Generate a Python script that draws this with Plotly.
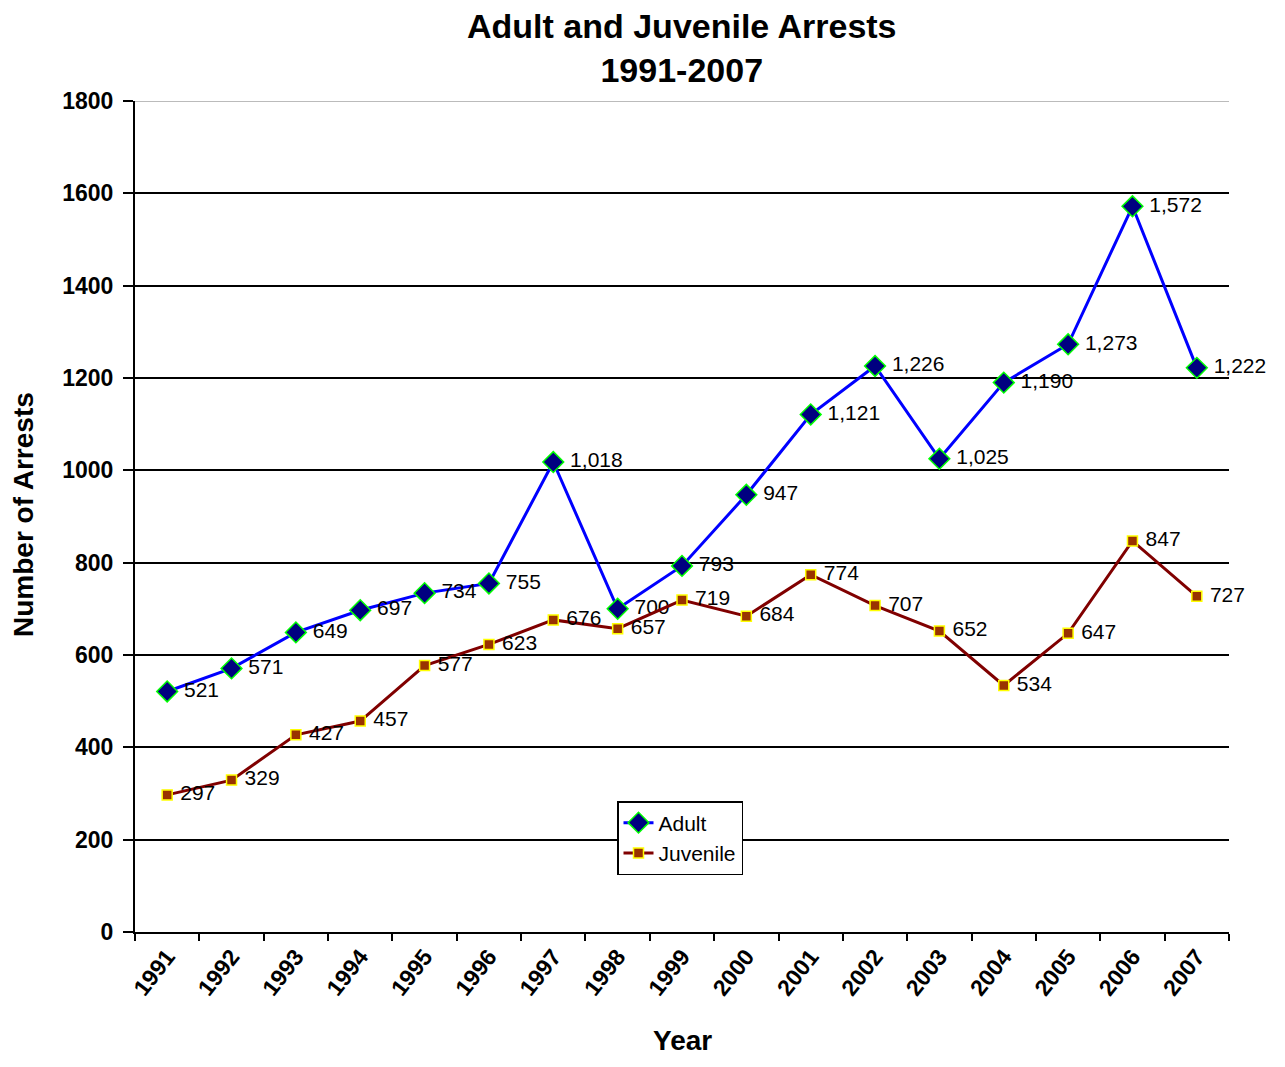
import plotly.graph_objects as go

years = [str(y) for y in range(1991, 2008)]
adult = [521, 571, 649, 697, 734, 755, 1018, 700, 793, 947, 1121, 1226, 1025, 1190, 1273, 1572, 1222]
juvenile = [297, 329, 427, 457, 577, 623, 676, 657, 719, 684, 774, 707, 652, 534, 647, 847, 727]
title_lines = ["Adult and Juvenile Arrests", "1991-2007"]
x_title = "Year"
y_title = "Number of Arrests"

FONT = "Arial, Liberation Sans, sans-serif"
W, H = 1269, 1051  # page body has an 8px margin
L, R, T, B = 127, 48, 93, 127
PW, PH = W - L - R, H - T - B

def fmt(v):
    return "\u00a0" + f"{v:,}"

fig = go.Figure()
fig.add_trace(go.Scatter(
    x=years, y=adult, name="Adult", mode="lines+markers+text",
    line=dict(color="#0000FF", width=3),
    marker=dict(symbol="diamond", size=16, color="#000080", line=dict(color="#00FF00", width=1.5)),
    text=[fmt(v) for v in adult], textposition="middle right",
    textfont=dict(family=FONT, size=21, color="black"), cliponaxis=False,
))
fig.add_trace(go.Scatter(
    x=years, y=juvenile, name="Juvenile", mode="lines+markers+text",
    line=dict(color="#800000", width=3),
    marker=dict(symbol="square", size=10, color="#993300", line=dict(color="#FFFF00", width=1.5)),
    text=[fmt(v) for v in juvenile], textposition="middle right",
    textfont=dict(family=FONT, size=21, color="black"), cliponaxis=False,
))

fig.update_layout(
    width=W, height=H,
    margin=dict(l=L, r=R, t=T, b=B, autoexpand=False),
    paper_bgcolor="white", plot_bgcolor="white",
    font=dict(family=FONT, color="black"),
    showlegend=True,
    legend=dict(x=(609 - L) / PW, y=(H - B - 793) / PH, xanchor="left", yanchor="top",
                bordercolor="black", borderwidth=1.5, bgcolor="white",
                font=dict(family=FONT, size=21, color="black"),
                tracegroupgap=4),
)
fig.add_annotation(text="<br>".join(title_lines), xref="paper", yref="paper",
                   x=0.5, y=(H - B + 3) / PH,
                   xanchor="center", yanchor="top", showarrow=False,
                   font=dict(family=FONT, size=34, color="black", weight="bold"))
fig.add_annotation(text=x_title, xref="paper", yref="paper",
                   x=0.5, y=(H - B - 1050) / PH,
                   xanchor="center", yanchor="bottom", showarrow=False,
                   font=dict(family=FONT, size=28, color="black", weight="bold"))
fig.add_annotation(text=y_title, xref="paper", yref="paper",
                   x=(15 - L) / PW, y=(H - B - 507) / PH, textangle=-90,
                   xanchor="center", yanchor="middle", showarrow=False,
                   font=dict(family=FONT, size=28, color="black", weight="bold"))
fig.update_xaxes(
    type="category", categoryorder="array", categoryarray=years,
    range=[-0.5, 16.5], automargin=False,
    showline=True, linecolor="black", linewidth=2,
    ticks="outside", ticklen=7, tickwidth=2, tickcolor="black", tickson="boundaries",
    tickangle=-52, tickfont=dict(family=FONT, size=23, color="black", weight="bold"),
    showgrid=False,
)
fig.update_yaxes(
    range=[0, 1800], dtick=200, tickformat="d", automargin=False,
    showline=True, linecolor="black", linewidth=2,
    ticks="outside", ticklen=10, tickwidth=2, tickcolor="black", ticklabelstandoff=5,
    tickfont=dict(family=FONT, size=23, color="black", weight="bold"),
    showgrid=True, gridcolor="black", gridwidth=1.5,
    zeroline=False,
)
fig.add_shape(type="line", xref="paper", yref="y", x0=0, x1=1, y0=1800, y1=1800,
              line=dict(color="#BBBBBB", width=2), layer="above")

fig.write_html("out.html")
